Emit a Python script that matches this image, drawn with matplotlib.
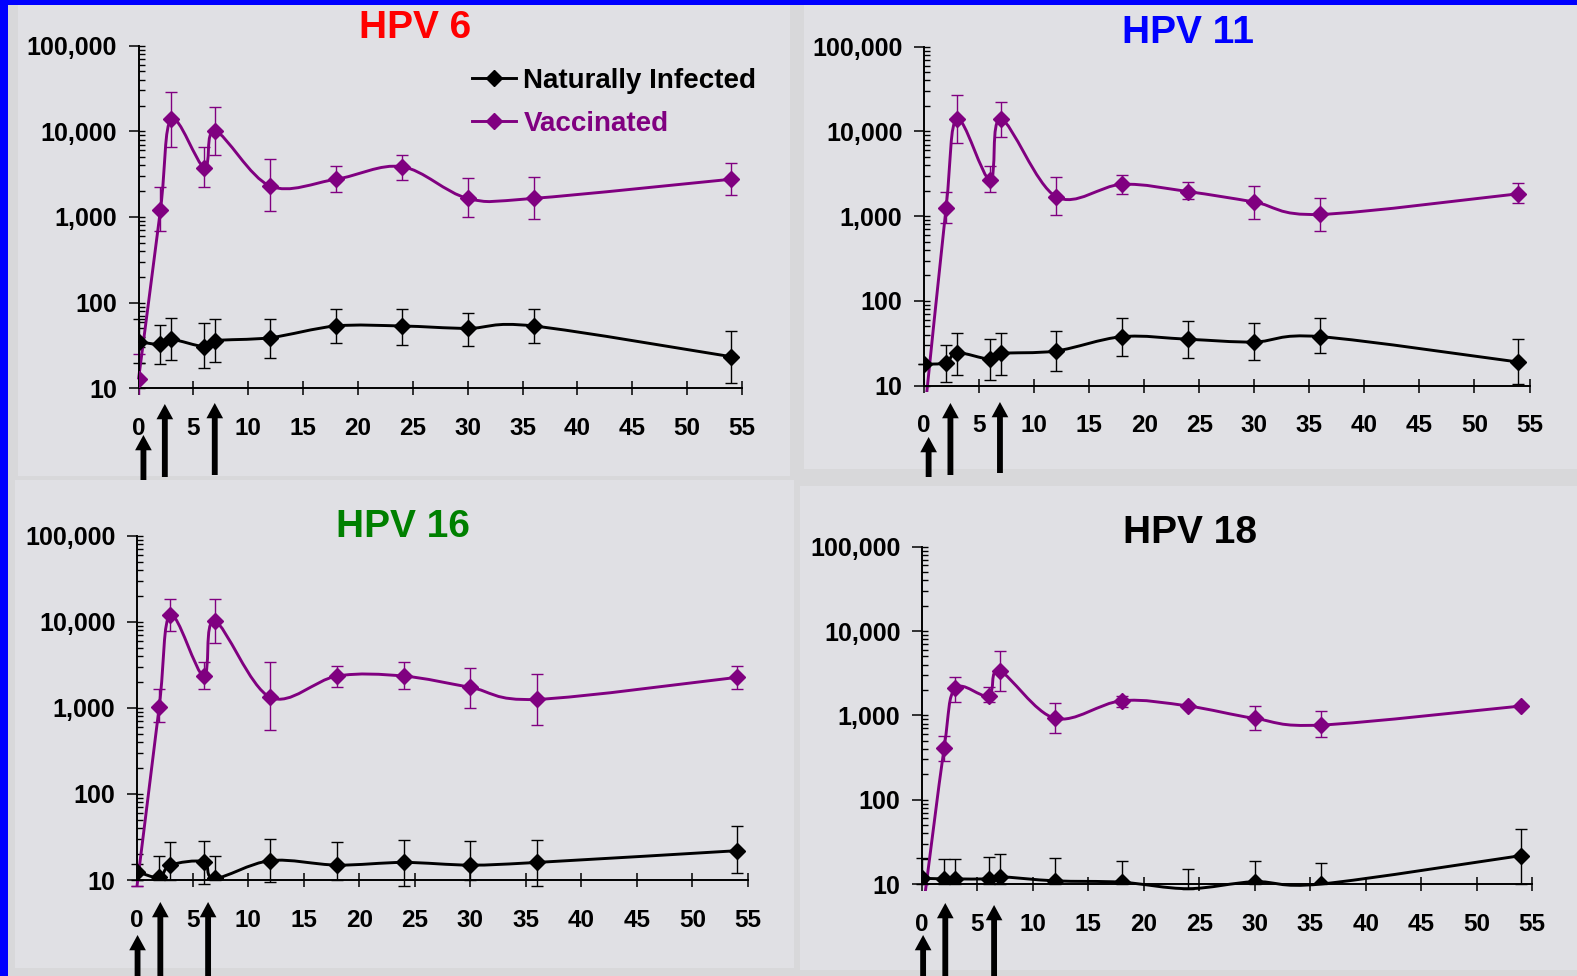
import matplotlib
matplotlib.use("Agg")
import matplotlib.pyplot as plt
import numpy as np
from matplotlib.path import Path
from matplotlib.patches import PathPatch, Rectangle, FancyArrowPatch
from matplotlib.lines import Line2D
from matplotlib.ticker import FixedLocator, FuncFormatter, LogLocator, NullFormatter
from matplotlib.transforms import blended_transform_factory, Bbox, TransformedBbox

plt.rcParams["font.family"] = ["Liberation Sans", "DejaVu Sans"]
plt.rcParams["font.weight"] = "bold"

W, H = 1577, 976

MONTHS = [0, 2, 3, 6, 7, 12, 18, 24, 30, 36, 54]
X_TICKS = list(range(0, 60, 5))
Y_TICKS = [10, 100, 1000, 10000, 100000]

# HPV 6
hpv6_nat = [35, 32.6, 37.3, 30.6, 36, 39, 53.4, 53.4, 50.1, 53.4, 23.4]
hpv6_nat_hi = [64, 54.8, 65.6, 57.4, 64, 64, 85, 85, 76.4, 85, 46.3]
hpv6_nat_lo = [20, 19.1, 21.4, 17.1, 20.1, 22.8, 33.5, 32.3, 31.3, 33.5, 11.4]
hpv6_vac = [12.7, 1210, 13900, 3770, 10100, 2300, 2760, 3870, 1650, 1650, 2760]
hpv6_vac_hi = [25.1, 2220, 28600, 6620, 19200, 4760, 3970, 5340, 2880, 2960, 4270]
hpv6_vac_lo = [7, 692, 6620, 2220, 5340, 1190, 1940, 2680, 1010, 948, 1820]

# HPV 11
hpv11_nat = [17.9, 18.7, 24.5, 20.5, 24, 25.7, 37.9, 35.3, 32.8, 37.9, 19]
hpv11_nat_hi = [17.9, 30.5, 42.2, 35.6, 42, 43.8, 62.4, 58.5, 55, 62.4, 35.6]
hpv11_nat_lo = [17.9, 11.1, 13.4, 11.7, 13.4, 14.9, 22.4, 21.4, 20.1, 24.1, 10.4]
hpv11_vac = [4, 1240, 14000, 2670, 14000, 1700, 2380, 1950, 1470, 1050, 1840]
hpv11_vac_hi = [4, 1910, 26900, 3940, 22300, 2920, 3090, 2530, 2290, 1640, 2460]
hpv11_vac_lo = [4, 840, 7370, 1950, 8600, 1030, 1840, 1580, 927, 674, 1430]

# HPV 16
hpv16_nat = [12.5, 10.7, 14.9, 16.3, 10.45, 16.8, 14.9, 16, 14.9, 16, 21.9]
hpv16_nat_hi = [15.2, 19.2, 27.4, 28.6, 19.2, 29.9, 27.4, 29.1, 28.4, 29.1, 42.4]
hpv16_nat_lo = [10, 10, 10, 9.1, 10, 9.6, 10, 8.5, 10, 8.5, 12.2]
hpv16_vac = [8.5, 1030, 11980, 2340, 10200, 1325, 2340, 2340, 1730, 1255, 2260]
hpv16_vac_hi = [8.5, 1655, 18400, 3380, 18400, 3380, 3090, 3380, 2930, 2450, 3090]
hpv16_vac_lo = [8.5, 690, 7810, 1655, 5610, 552, 1760, 1655, 1005, 632, 1655]

# HPV 18
hpv18_nat = [11.7, 11.5, 11.5, 11.5, 12.2, 10.9, 10.5, 8.8, 10.65, 10, 21.7]
hpv18_nat_hi = [20.1, 19.6, 19.6, 21.1, 22.5, 20.1, 18.9, 15.1, 18.9, 17.9, 44.5]
hpv18_nat_lo = [10, 10, 10, 10, 10, 10, 10, 8.8, 10, 10, 10]
hpv18_vac = [4, 414, 2090, 1695, 3355, 921, 1490, 1290, 921, 768, 1290]
hpv18_vac_hi = [4, 574, 2870, 2150, 5800, 1387, 1710, 1290, 1290, 1115, 1290]
hpv18_vac_lo = [4, 287, 1426, 1452, 1944, 623, 1267, 1290, 670, 558, 1290]

BLACK = "#000000"
PURPLE = "#800080"

# title, colour, axes box (x0, x55, ytop, ybot in px), panel box, title pos, arrows
panels = [
    ("HPV 6", "#FF0000", (138.5, 742, 45.7, 388.3), (18, 5, 790, 476), (415, 38),
     [(0.45, 435, 480), (2.4, 404, 477), (6.95, 403, 475)],
     (hpv6_nat, hpv6_nat_hi, hpv6_nat_lo), (hpv6_vac, hpv6_vac_hi, hpv6_vac_lo)),
    ("HPV 11", "#0000FF", (924, 1529.5, 46.7, 385.7), (804, 5, 1577, 469), (1188, 43),
     [(0.42, 437, 477), (2.4, 403, 475), (6.9, 402, 473)],
     (hpv11_nat, hpv11_nat_hi, hpv11_nat_lo), (hpv11_vac, hpv11_vac_hi, hpv11_vac_lo)),
    ("HPV 16", "#008000", (137, 748, 535.7, 880), (15, 480, 794, 968), (403, 537),
     [(0.05, 935, 976), (2.1, 902, 976), (6.4, 902, 976)],
     (hpv16_nat, hpv16_nat_hi, hpv16_nat_lo), (hpv16_vac, hpv16_vac_hi, hpv16_vac_lo)),
    ("HPV 18", "#000000", (922, 1532, 546.7, 884), (800, 486, 1577, 970), (1190, 543),
     [(0.1, 935, 976), (2.1, 903, 976), (6.5, 905, 976)],
     (hpv18_nat, hpv18_nat_hi, hpv18_nat_lo), (hpv18_vac, hpv18_vac_hi, hpv18_vac_lo)),
]


def smooth_path(x, y):
    # Excel-style smoothed line: Catmull-Rom bezier in (x, log y) space
    px = np.asarray(x, float)
    py = np.log10(np.asarray(y, float))
    n = len(px)
    verts = [(px[0], py[0])]
    codes = [Path.MOVETO]
    for i in range(n - 1):
        a = max(i - 1, 0)
        b = min(i + 2, n - 1)
        c1 = (px[i] + (px[i + 1] - px[a]) / 6, py[i] + (py[i + 1] - py[a]) / 6)
        c2 = (px[i + 1] - (px[b] - px[i]) / 6, py[i + 1] - (py[b] - py[i]) / 6)
        verts += [c1, c2, (px[i + 1], py[i + 1])]
        codes += [Path.CURVE4] * 3
    verts = np.array(verts)
    verts[:, 1] = 10 ** verts[:, 1]
    return Path(verts, codes)


def draw_series(ax, vals, hi, lo, color, clip):
    x = np.array(MONTHS, float)
    y = np.array(vals, float)
    yerr = [y - np.array(lo), np.array(hi) - y]
    curve = ax.add_patch(PathPatch(smooth_path(x, y), fill=False, edgecolor=color,
                                   lw=2.1, zorder=2))
    curve.set_clip_box(clip)
    eb = ax.errorbar(x, y, yerr=yerr, fmt="none", ecolor=color, elinewidth=1.0,
                     capsize=4.3, capthick=1.0, zorder=2)
    for art in eb.lines[1] + eb.lines[2]:
        art.set_clip_box(clip)
    m = y >= 10
    ax.plot(x[m], y[m], "D", ms=8, color=color, zorder=3)


fig = plt.figure(figsize=(W / 100, H / 100), dpi=100, facecolor="#D8D8DA")

# blue slide edges
fig.add_artist(Rectangle((0, 0), 8 / W, 1, transform=fig.transFigure,
                         facecolor="#0000FF", edgecolor="none", zorder=-10))
fig.add_artist(Rectangle((0, 1 - 5 / H), 1, 5 / H, transform=fig.transFigure,
                         facecolor="#0000FF", edgecolor="none", zorder=-10))

for title, tcolor, box, pbox, tpos, arrows, nat, vac in panels:
    px0, py0, px1, py1 = pbox
    fig.add_artist(Rectangle((px0 / W, 1 - py1 / H), (px1 - px0) / W, (py1 - py0) / H,
                             transform=fig.transFigure, facecolor="#E0E0E4",
                             edgecolor="none", zorder=-9))

    x0, x55, ytop, ybot = box
    ax = fig.add_axes([x0 / W, 1 - ybot / H, (x55 - x0) / W, (ybot - ytop) / H])
    ax.set_facecolor("none")
    ax.set_yscale("log")
    ax.set_xlim(0, 55)
    ax.set_ylim(10, 100000)

    # let marks run a few pixels under the x axis, like the original plot area
    clip = TransformedBbox(Bbox([[-0.01, -0.02], [1.01, 1.01]]), ax.transAxes)
    draw_series(ax, *nat, BLACK, clip)
    draw_series(ax, *vac, PURPLE, clip)

    ax.xaxis.set_major_locator(FixedLocator(X_TICKS))
    ax.yaxis.set_major_locator(FixedLocator(Y_TICKS))
    ax.yaxis.set_major_formatter(FuncFormatter(lambda v, p: f"{v:,.0f}"))
    ax.yaxis.set_minor_locator(LogLocator(base=10, subs=np.arange(1, 10)))
    ax.yaxis.set_minor_formatter(NullFormatter())
    ax.yaxis.remove_overlapping_locs = False
    for s in ("top", "right"):
        ax.spines[s].set_visible(False)
    for s in ("left", "bottom"):
        ax.spines[s].set_linewidth(1.4)
    ax.tick_params(axis="y", which="major", direction="out", length=7.2, width=1.1,
                   pad=8.3, labelsize=18)
    ax.tick_params(axis="y", which="minor", direction="in", length=4.3, width=1.0)
    ax.tick_params(axis="x", which="major", direction="inout", length=9.4, width=1.1,
                   pad=16, labelsize=17.5)

    fig.text(tpos[0] / W, 1 - tpos[1] / H, title, color=tcolor, fontsize=28,
             fontweight="bold", ha="center", va="baseline")

    tr = blended_transform_factory(ax.transData, fig.transFigure)
    for ax_x, tip, bottom in arrows:
        fig.add_artist(FancyArrowPatch(
            (ax_x, 1 - bottom / H), (ax_x, 1 - tip / H), transform=tr,
            arrowstyle="simple, head_width=1.2, head_length=1.1, tail_width=0.42",
            mutation_scale=10, facecolor="black", edgecolor="none",
            shrinkA=0, shrinkB=0, clip_on=False, zorder=5))

    if title == "HPV 6":
        handles = [Line2D([], [], color=BLACK, marker="D", ms=8, lw=2.1),
                   Line2D([], [], color=PURPLE, marker="D", ms=8, lw=2.1)]
        ax.legend(handles, ["Naturally Infected", "Vaccinated"],
                  loc="upper left", bbox_to_anchor=(472 / W, 1 - 68 / H),
                  bbox_transform=fig.transFigure, frameon=False, borderpad=0,
                  borderaxespad=0, handlelength=1.6, handletextpad=0.25,
                  labelspacing=0.62, labelcolor=[BLACK, PURPLE],
                  prop={"size": 20, "weight": "bold"})

fig.savefig("out.png", dpi=100, facecolor=fig.get_facecolor())
